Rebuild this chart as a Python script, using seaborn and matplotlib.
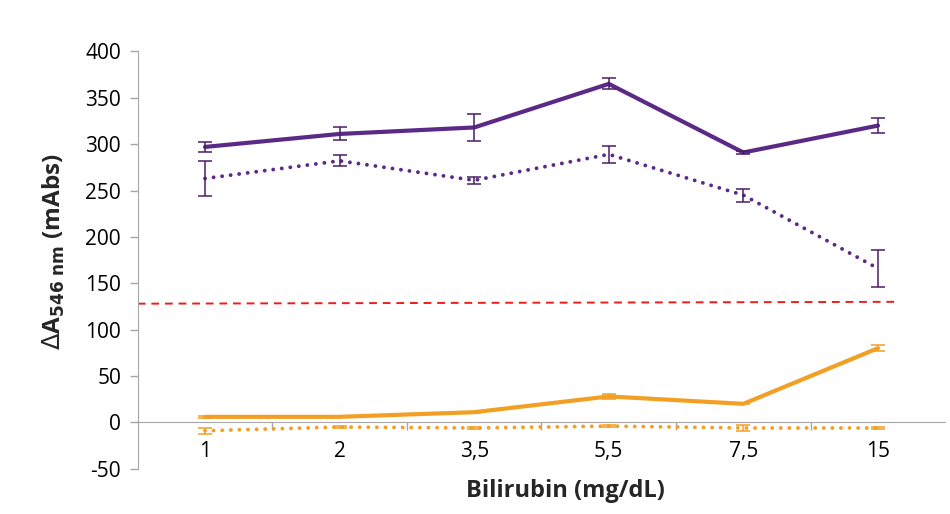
import numpy as np
import pandas as pd
import matplotlib
matplotlib.use("Agg")
import matplotlib.pyplot as plt
import seaborn as sns

# categories on the x axis
bilirubin = ["1", "2", "3,5", "5,5", "7,5", "15"]

# purple series (solid / dotted)
purple_solid = [297, 311, 318, 365, 291, 320]
purple_solid_err = [5, 7, 15, 6, 2, 8]
purple_dot = [263, 282, 261, 289, 245, 166]
purple_dot_err = [19, 6, 4, 9, 7, 20]

# orange series (solid / dotted)
orange_solid = [6, 6, 11, 28, 20, 80]
orange_solid_err = [1, 0.5, 0.5, 3, 0.5, 3]
orange_dot = [-9, -5, -6, -4, -6, -6]
orange_dot_err = [3, 1, 1, 1, 3, 1]

# red dashed cut-off line (start / end value)
cutoff = [128, 130]

PURPLE = "#5B2A86"
PURPLE_ERR = "#4A1E66"
ORANGE = "#F29F24"

sns.set_style("white")
plt.rcParams["font.family"] = ["Open Sans", "DejaVu Sans"]
plt.rcParams["axes.unicode_minus"] = False

fig, ax = plt.subplots(figsize=(9.5, 5.14), dpi=100)
fig.subplots_adjust(left=0.145, right=0.995, top=0.9, bottom=0.088)

x = np.arange(len(bilirubin))
series = [
    (purple_solid, purple_solid_err, PURPLE, PURPLE_ERR, "-"),
    (purple_dot, purple_dot_err, PURPLE, PURPLE_ERR, ":"),
    (orange_solid, orange_solid_err, ORANGE, ORANGE, "-"),
    (orange_dot, orange_dot_err, ORANGE, ORANGE, ":"),
]

for vals, errs, col, ecol, ls in series:
    df = pd.DataFrame({"x": x, "y": vals})
    if ls == "-":
        sns.lineplot(data=df, x="x", y="y", ax=ax, color=col, linewidth=3,
                     solid_joinstyle="miter", zorder=3)
    else:
        sns.lineplot(data=df, x="x", y="y", ax=ax, color=col, linewidth=2.8,
                     linestyle=(0, (0.01, 2.2)), dash_capstyle="round", zorder=3)
    ax.errorbar(x, vals, yerr=errs, fmt="none", ecolor=ecol, elinewidth=1.1,
                capsize=5, capthick=1.1, zorder=4)

# cut-off line
ax.plot([-0.5, 5.15], cutoff, color="#EE1C1C", linestyle=(0, (4, 3)),
        linewidth=1.4, zorder=2)

ax.set_xlim(-0.5, 5.5)
ax.set_ylim(-50, 400)
ax.set_yticks(np.arange(-50, 401, 50))
ax.set_xticks(x)
ax.set_xticklabels(bilirubin)

# axes styled like the original: y axis on left, x axis at zero
for s in ["top", "right"]:
    ax.spines[s].set_visible(False)
ax.spines["left"].set_color("#A6A6A6")
ax.spines["bottom"].set_position(("data", 0))
ax.spines["bottom"].set_color("#A6A6A6")
ax.spines["bottom"].set_zorder(1)

ax.tick_params(axis="y", which="major", left=True, length=6, width=1,
               color="#A6A6A6", labelsize=15, pad=6, labelcolor="#000000")
ax.tick_params(axis="x", which="major", bottom=False, labelsize=15, pad=10,
               labelcolor="#000000")
# minor ticks between categories, pointing down from the zero line
ax.set_xticks(np.arange(0.5, 5.5, 1), minor=True)
ax.tick_params(axis="x", which="minor", bottom=True, length=6, width=1,
               color="#A6A6A6", direction="out")

ax.set_xlabel("Bilirubin (mg/dL)", fontsize=17, fontweight="bold")
ax.set_ylabel(r"$\Delta$A$_{\mathbf{546\ nm}}$ (mAbs)", fontsize=17.5,
              fontweight="bold")
ax.xaxis.set_label_coords(0.53, -0.025)
ax.yaxis.set_label_coords(-0.088, 0.52)

fig.savefig("out.png", dpi=100)
